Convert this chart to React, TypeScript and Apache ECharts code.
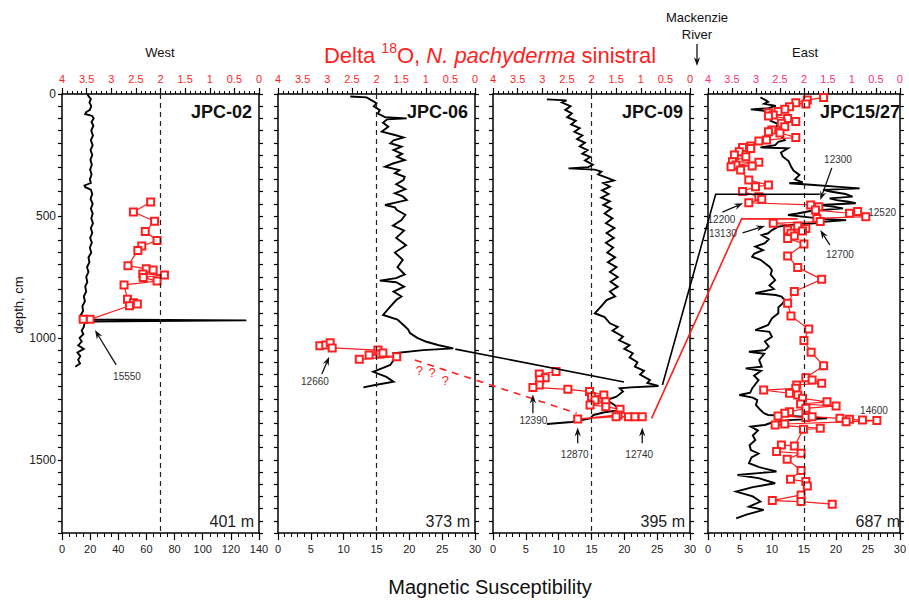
import React, { useEffect, useRef } from 'react';
import * as echarts from 'echarts';

const FONT = '"Liberation Sans", Arial, Helvetica, sans-serif';

// ---------- axes / labels ----------
const coreNames = ['JPC-02', 'JPC-06', 'JPC-09', 'JPC15/27'];
const waterDepths = ['401 m', '373 m', '395 m', '687 m'];
const msMax = [140, 30, 30, 30];
const msInterval = [20, 5, 5, 5];
const msMinorSplit = [4, 5, 5, 5];
const o18Min = 0;
const o18Max = 4;
const o18Interval = 0.5;
const depthMax = 1800;
const depthTickStep = 50;
const depthLabelStep = 500;
const o18Reference = 2;

// ---------- magnetic susceptibility: [depth cm, MS] ----------
const jpc02MS: [number, number][] = [
  [0, 18], [10, 19], [20, 20.5], [35, 19.5], [50, 20.8], [65, 19.8], [75, 17], [82, 16.5], [90, 21.5], [100, 22.5],
  [115, 21], [130, 22.3], [150, 20.8], [170, 22], [190, 20.5], [210, 21.8], [230, 20.3], [250, 21.5], [270, 20.2],
  [290, 21.2], [310, 20], [330, 21], [350, 19.8], [365, 20.5], [375, 16], [382, 16.5], [392, 20.5], [410, 21.5],
  [430, 20.3], [450, 21.8], [470, 20.5], [490, 21.8], [510, 20.8], [530, 22], [550, 20.5], [570, 21.5], [590, 20],
  [610, 21.2], [630, 19.8], [650, 20.8], [670, 18.8], [690, 19.5], [710, 17.8], [730, 18.8], [750, 17.2], [770, 18],
  [790, 16.5], [810, 17.2], [830, 15.5], [850, 16.3], [870, 14.5], [890, 15], [905, 13.5], [918, 15.5], [924, 17],
  [928, 131], [933, 20], [940, 16], [955, 15.5], [970, 14], [985, 15.2], [1000, 12.5], [1015, 14], [1030, 11.5],
  [1045, 15.5], [1060, 11], [1075, 13], [1090, 11.5], [1105, 12.8], [1118, 9.5],
];
const jpc06MS: [number, number][] = [
  [10, 11], [14, 13.5], [25, 14.2], [38, 15], [50, 14.6], [66, 15.5], [80, 15.2], [95, 16.3], [100, 19.6], [104, 16.6],
  [118, 16], [134, 16.8], [154, 15.8], [168, 17.8], [178, 19.1], [190, 17.6], [202, 17.1], [216, 18.8], [230, 17.6],
  [245, 18.9], [257, 18.1], [271, 19.3], [285, 17.5], [298, 16.3], [312, 18.5], [325, 17.8], [340, 19.3], [353, 19.1],
  [370, 18], [390, 19.4], [407, 17.8], [420, 19], [435, 19.6], [455, 16.3], [465, 17.8], [476, 18.1], [495, 19.4],
  [517, 18.8], [540, 17.5], [560, 19.2], [590, 18], [620, 19.5], [650, 17.8], [680, 19], [710, 18.2], [740, 19.3],
  [755, 18], [765, 15.5], [772, 18], [790, 19.2], [810, 17.6], [830, 18.8], [845, 18], [875, 17], [906, 16],
  [925, 18.2], [947, 19.1], [965, 19.8], [980, 20.1], [1000, 21.2], [1016, 22.6], [1030, 24.5], [1043, 26.7],
  [1050, 22.1], [1063, 17.6], [1077, 18.1], [1095, 17.5], [1111, 17.1], [1125, 15.8], [1139, 14.5], [1160, 16.5],
  [1180, 17.6], [1192, 15], [1203, 13],
];
const jpc09MS: [number, number][] = [
  [22, 8.2], [26, 11.2], [35, 10.5], [50, 11.8], [65, 11], [80, 12], [95, 11.3], [110, 12.6], [125, 11.9], [140, 13.2],
  [155, 12.4], [170, 13.6], [185, 12.8], [200, 14], [215, 13.2], [230, 14.4], [245, 13.6], [258, 14.8], [272, 14],
  [290, 15.2], [300, 14.5], [305, 11.5], [310, 15.5], [318, 16.5], [330, 16], [346, 17.6], [355, 18.4], [365, 16.8],
  [380, 17.8], [395, 16.6], [410, 17.6], [425, 16.5], [440, 17.8], [455, 16.8], [470, 18], [490, 17], [510, 18.2],
  [530, 17.2], [550, 18.5], [570, 17.3], [590, 18.4], [610, 17.2], [630, 18.3], [650, 17.4], [670, 18.6], [690, 17.5],
  [710, 18.8], [730, 17.8], [750, 19], [770, 17.9], [790, 19], [810, 17.8], [830, 18.6], [845, 17.3], [870, 16.5],
  [899, 15.5], [915, 17], [940, 17.8], [955, 19], [970, 18.2], [995, 19.8], [1010, 19.2], [1030, 20.8], [1045, 20],
  [1063, 21.3], [1080, 20.8], [1100, 22], [1118, 21.6], [1135, 23], [1150, 22.4], [1173, 23.9], [1185, 23.5],
  [1197, 25.2], [1203, 21], [1207, 19.3], [1220, 19.8], [1241, 18.8], [1255, 17.3], [1275, 18.5], [1296, 19.3],
  [1305, 17], [1316, 15.3], [1330, 14.8], [1345, 12], [1353, 8.2],
];
const jpc15MS: [number, number][] = [
  [14, 8.2], [25, 9], [32, 9.4], [40, 8.8], [49, 10.6], [58, 9.5], [63, 6.7], [70, 9], [79, 10], [95, 10.2], [110, 9.8],
  [122, 10.9], [134, 10.7], [145, 9.9], [154, 10.2], [170, 11.4], [189, 12], [196, 11], [210, 10.5], [219, 8.2],
  [223, 12.5], [240, 11.4], [257, 11.7], [275, 12.6], [298, 13], [315, 13.4], [332, 14.3], [350, 13.6], [362, 14.8],
  [366, 12.7], [373, 16.6], [380, 20], [387, 23.7], [393, 18], [400, 19.1], [410, 21.5], [421, 22.6], [428, 19],
  [435, 20.1], [442, 22], [448, 23.1], [455, 17.6], [462, 19.5], [469, 21.1], [480, 16], [490, 14], [496, 12.5],
  [505, 15.5], [512, 18], [517, 21.6], [524, 18], [530, 16.6], [537, 13], [544, 11], [558, 10], [571, 9.4], [578, 8.4],
  [595, 9.5], [612, 8.9], [626, 7.4], [640, 8.6], [655, 7.2], [667, 6.9], [680, 8.2], [694, 8.9], [708, 9.6],
  [722, 10], [740, 9.8], [763, 10.5], [785, 9.6], [800, 10.3], [817, 7.4], [824, 10.6], [831, 11.5], [845, 12],
  [858, 11.7], [875, 11], [899, 11], [920, 10], [947, 9.4], [968, 7.4], [975, 9.6], [995, 10], [1015, 8.9], [1035, 9.5],
  [1050, 8.9], [1057, 6.4], [1065, 8.8], [1090, 8], [1118, 8.4], [1125, 5.9], [1135, 8.3], [1155, 7.2], [1173, 7.9],
  [1190, 7.4], [1207, 6.9], [1225, 6.6], [1234, 4.9], [1245, 7], [1255, 7.7], [1275, 7.5], [1296, 8.2], [1310, 8.8],
  [1316, 9.4], [1323, 15], [1330, 18.6], [1337, 12.5], [1347, 10], [1357, 8.9], [1364, 6.7], [1380, 7.8], [1400, 7],
  [1419, 7.4], [1440, 6.5], [1460, 6.7], [1474, 7.9], [1490, 6.8], [1514, 6.4], [1530, 8], [1548, 10.7], [1562, 4.6],
  [1575, 7.9], [1596, 10.5], [1612, 7], [1630, 4.4], [1650, 7], [1671, 8.2], [1692, 6.4], [1705, 8.7], [1725, 6],
  [1740, 4.4],
];

// ---------- delta 18O (N. pachyderma sin.): [depth cm, permil] ----------
const jpc02O18: [number, number][] = [
  [443, 2.2], [484, 2.55], [522, 2.12], [564, 2.31], [601, 2.07], [623, 2.38], [642, 2.46], [704, 2.66], [717, 2.29],
  [722, 2.15], [738, 2.36], [742, 1.92], [752, 2.35], [767, 2.07], [783, 2.74], [842, 2.67], [856, 2.55], [861, 2.47],
  [868, 2.63], [924, 3.43], [924, 3.57],
];
const jpc06O18: [number, number][] = [
  [1032, 3.15], [1029, 3.03], [1020, 2.94], [1041, 2.9], [1050, 1.97], [1066, 1.93], [1062, 1.87], [1070, 2.15],
  [1077, 1.59], [1088, 2.35],
];
const jpc09O18: [number, number][] = [
  [1138, 2.72], [1148, 3.06], [1163, 2.94], [1172, 3.05], [1193, 3.06], [1203, 3.19], [1211, 2.48], [1220, 2.04],
  [1234, 1.75], [1241, 2.0], [1255, 1.93], [1262, 1.71], [1275, 2.03], [1282, 1.71], [1293, 1.42], [1316, 1.46],
  [1333, 2.28], [1323, 1.5], [1323, 1.25], [1323, 1.12], [1323, 0.97],
];
const jpc15O18: [number, number][] = [
  [14, 1.59], [25, 1.93], [36, 2.17], [41, 1.96], [52, 2.3], [63, 2.4], [72, 2.54], [77, 2.74], [86, 2.64], [90, 2.74],
  [100, 2.34], [113, 2.17], [120, 2.47], [134, 2.4], [148, 2.67], [155, 2.74], [160, 2.5], [178, 2.17], [189, 2.78],
  [193, 2.94], [213, 3.11], [219, 3.28], [223, 3.11], [237, 3.35], [250, 3.45], [257, 3.21], [278, 3.49], [280, 2.94],
  [291, 3.42], [295, 3.08], [298, 3.52], [312, 3.32], [353, 3.15], [373, 2.74], [380, 3.01], [400, 3.28], [421, 2.94],
  [432, 2.88], [446, 3.15], [455, 1.86], [462, 1.69], [476, 1.76], [489, 1.05], [482, 0.88], [503, 0.71], [510, 1.73],
  [523, 1.66], [530, 2.64], [541, 2.13], [551, 1.96], [558, 2.34], [562, 2.03], [571, 2.27], [582, 2.2], [592, 2.34],
  [615, 2.0], [664, 2.34], [711, 2.13], [760, 1.63], [810, 2.2], [858, 2.34], [910, 2.27], [964, 1.9], [1011, 2.0],
  [1059, 1.85], [1114, 1.59], [1163, 1.96], [1173, 1.83], [1186, 1.63], [1193, 2.15], [1207, 2.17], [1214, 2.84],
  [1227, 2.3], [1234, 2.13], [1248, 2.03], [1262, 1.52], [1271, 2.07], [1279, 1.33], [1289, 1.96], [1303, 2.3],
  [1309, 2.4], [1320, 2.54], [1326, 1.96], [1323, 1.83], [1330, 1.25], [1334, 1.05], [1337, 0.78], [1339, 0.48],
  [1344, 1.12], [1353, 2.4], [1357, 2.6], [1371, 1.66], [1375, 2.01], [1443, 2.2], [1439, 2.47], [1466, 2.57],
  [1473, 2.06], [1498, 2.35], [1544, 2.06], [1580, 2.28], [1589, 1.96], [1607, 1.93], [1644, 2.06], [1667, 2.66],
  [1671, 2.06], [1682, 1.41],
];

const msSeries = [jpc02MS, jpc06MS, jpc09MS, jpc15MS];
const o18Series = [jpc02O18, jpc06O18, jpc09O18, jpc15O18];

// ---------- annotations (panel, delta18O, depth) ----------
const corrBlackA: [number, number, number][] = [[1, 0.4, 1046], [2, 1.34, 1181]];
const corrBlackB: [number, number, number][] = [[2, 0.56, 1193], [3, 3.84, 411], [3, 1.67, 411]];
const corrRed: [number, number, number][] = [[2, 0.78, 1330], [3, 3.3, 512], [3, 2.13, 512]];
const corrRedDashed: [number, number, number][] = [[1, 1.22, 1091], [2, 2.3, 1309]];
const questionMarks: [number, number, number][] = [[1, 1.13, 1132], [1, 0.87, 1143], [1, 0.6, 1173]];
const ageLabels: { t: string; p: number; d: number; z: number }[] = [
  { t: '15550', p: 0, d: 2.68, z: 1160 },
  { t: '12660', p: 1, d: 3.25, z: 1180 },
  { t: '12390', p: 2, d: 3.18, z: 1337 },
  { t: '12870', p: 2, d: 2.34, z: 1480 },
  { t: '12740', p: 2, d: 1.03, z: 1480 },
  { t: '12300', p: 3, d: 1.29, z: 268 },
  { t: '12200', p: 3, d: 3.72, z: 514 },
  { t: '13130', p: 3, d: 3.69, z: 571 },
  { t: '12520', p: 3, d: 0.37, z: 485 },
  { t: '12700', p: 3, d: 1.25, z: 660 },
  { t: '14600', p: 3, d: 0.54, z: 1296 },
];
// [panel, d from, depth from, d to, depth to]
const ageArrows: [number, number, number, number, number][] = [
  [0, 2.9, 1111, 3.33, 968],
  [1, 3.11, 1148, 2.96, 1077],
  [2, 3.19, 1309, 3.19, 1232],
  [2, 2.28, 1432, 2.28, 1367],
  [2, 0.97, 1432, 0.97, 1367],
  [3, 1.42, 303, 1.66, 435],
  [3, 3.7, 484, 3.27, 448],
  [3, 3.28, 569, 2.81, 541],
  [3, 1.46, 619, 1.66, 558],
];

// ---------- layout ----------
const GRID_LEFT = [62, 278, 493, 708];
const GRID_W = 197;
const GRID_TOP = 94;
const GRID_H = 439;
const RED = '#ff1f1f';
const PINK = '#ff3377';

function buildOption(): any {
  const grid = GRID_LEFT.map((l) => ({ left: l, top: GRID_TOP, width: GRID_W, height: GRID_H, containLabel: false }));
  const xAxis: any[] = [];
  const yAxis: any[] = [];
  const series: any[] = [];
  for (let i = 0; i < 4; i++) {
    xAxis.push({
      type: 'value', gridIndex: i, position: 'bottom', min: 0, max: msMax[i], interval: msInterval[i],
      axisLine: { show: true, onZero: false, lineStyle: { color: '#000', width: 1.5 } },
      axisTick: { show: true, inside: false, length: 7, lineStyle: { color: '#000', width: 1.2 } },
      minorTick: { show: true, splitNumber: msMinorSplit[i], length: 4, lineStyle: { color: '#000', width: 1 } },
      axisLabel: { color: '#222', fontSize: 11, margin: 10, fontFamily: FONT },
      splitLine: { show: false }, minorSplitLine: { show: false },
    });
    xAxis.push({
      type: 'value', gridIndex: i, position: 'top', inverse: true, min: o18Min, max: o18Max, interval: o18Interval,
      axisLine: { show: true, onZero: false, lineStyle: { color: '#000', width: 1.5 } },
      axisTick: { show: true, inside: false, length: 6, lineStyle: { color: '#000', width: 1.2 } },
      minorTick: { show: true, splitNumber: 5, length: 3, lineStyle: { color: '#000', width: 1 } },
      axisLabel: { color: i === 3 ? PINK : RED, fontSize: 11, margin: 10, fontFamily: FONT },
      splitLine: { show: false }, minorSplitLine: { show: false },
    });
    const yBase = {
      type: 'value', gridIndex: i, inverse: true, min: 0, max: depthMax, interval: depthTickStep,
      axisLine: { show: true, onZero: false, lineStyle: { color: '#000', width: 1.5 } },
      axisTick: { show: true, inside: false, length: 4, lineStyle: { color: '#000', width: 1.2 } },
      splitLine: { show: false },
    };
    yAxis.push({
      ...yBase, position: 'left',
      axisLabel: {
        show: i === 0, color: '#222', fontSize: 12, margin: 6, fontFamily: FONT,
        formatter: (v: number) => (v % depthLabelStep === 0 ? String(v) : ''),
      },
    });
    yAxis.push({ ...yBase, position: 'right', axisLabel: { show: false } });

    series.push({
      type: 'line', name: coreNames[i] + ' MS', xAxisIndex: 2 * i, yAxisIndex: 2 * i,
      data: msSeries[i].map(([z, v]) => [v, z]), showSymbol: false, symbol: 'none',
      lineStyle: { color: '#000', width: 1.9, join: 'miter' }, z: 2,
      markLine: {
        silent: true, symbol: ['none', 'none'], label: { show: false },
        lineStyle: { color: '#222', type: [5, 4], width: 1.2 },
        data: [{ xAxis: (msMax[i] / 4) * (4 - o18Reference) }],
      },
    });
    series.push({
      type: 'line', name: coreNames[i] + ' d18O', xAxisIndex: 2 * i + 1, yAxisIndex: 2 * i,
      data: o18Series[i].map(([z, v]) => [v, z]), symbol: 'emptyRect', symbolSize: 7,
      lineStyle: { color: RED, width: 1.2 }, itemStyle: { color: RED, borderWidth: 1.2 }, z: 3,
    });
  }
  return {
    animation: false,
    backgroundColor: '#fff',
    textStyle: { fontFamily: FONT },
    grid, xAxis, yAxis, series,
  };
}

function arrow(x1: number, y1: number, x2: number, y2: number, color = '#111'): any[] {
  const dx = x2 - x1, dy = y2 - y1;
  const len = Math.hypot(dx, dy) || 1;
  const ux = dx / len, uy = dy / len;
  const hl = 9, hw = 3.2;
  const bx = x2 - ux * hl, by = y2 - uy * hl;
  return [
    { type: 'line', silent: true, shape: { x1, y1, x2: bx + ux * 3, y2: by + uy * 3 }, style: { stroke: color, lineWidth: 1.3 } },
    {
      type: 'polygon', silent: true,
      shape: { points: [[x2, y2], [bx - uy * hw, by + ux * hw], [bx + ux * 3, by + uy * 3], [bx + uy * hw, by - ux * hw]] },
      style: { fill: color },
    },
  ];
}

function buildGraphics(chart: any): any[] {
  const px = (p: number, d: number, z: number): number[] =>
    chart.convertToPixel({ xAxisIndex: 2 * p + 1, yAxisIndex: 2 * p }, [d, z]);
  const els: any[] = [];
  const poly = (pts: [number, number, number][], color: string, dashed = false) => {
    els.push({
      type: 'polyline', silent: true, z: 10,
      shape: { points: pts.map(([p, d, z]) => px(p, d, z)) },
      style: { stroke: color, lineWidth: 1.6, fill: null, lineDash: dashed ? [7, 6] : null },
    });
  };
  poly(corrBlackA, '#000');
  poly(corrBlackB, '#000');
  poly(corrRed, RED);
  poly(corrRedDashed, RED, true);
  questionMarks.forEach(([p, d, z]) => {
    const [x, y] = px(p, d, z);
    els.push({ type: 'text', silent: true, z: 10, x, y, style: { text: '?', fill: RED, fontSize: 13, fontFamily: FONT, align: 'center', verticalAlign: 'middle' } });
  });
  ageLabels.forEach(({ t, p, d, z }) => {
    const [x, y] = px(p, d, z);
    els.push({ type: 'text', silent: true, z: 10, x, y, style: { text: t, fill: '#333', fontSize: 10, fontFamily: FONT, align: 'center', verticalAlign: 'middle' } });
  });
  ageArrows.forEach(([p, d1, z1, d2, z2]) => {
    const [x1, y1] = px(p, d1, z1);
    const [x2, y2] = px(p, d2, z2);
    arrow(x1, y1, x2, y2).forEach((e) => els.push({ ...e, z: 10 }));
  });

  // panel labels
  for (let i = 0; i < 4; i++) {
    const right = GRID_LEFT[i] + GRID_W;
    els.push({
      type: 'text', silent: true, z: 10, x: right - (i === 3 ? 5 : 7), y: GRID_TOP + 18,
      style: { text: coreNames[i], fill: '#111', fontSize: 18, fontWeight: 'bold', fontFamily: FONT, align: 'right', verticalAlign: 'middle' },
    });
    els.push({
      type: 'text', silent: true, z: 10, x: right - 5, y: GRID_TOP + GRID_H - 12,
      style: { text: waterDepths[i], fill: '#222', fontSize: 16, fontFamily: FONT, align: 'right', verticalAlign: 'middle' },
    });
  }
  // titles
  els.push({
    type: 'text', silent: true, x: 490, y: 55,
    style: {
      text: '{a|Delta }{s|18}{a|O, }{i|N. pachyderma}{a| sinistral}',
      align: 'center', verticalAlign: 'middle',
      rich: {
        a: { fontSize: 22, fill: RED, fontFamily: FONT, lineHeight: 28 },
        i: { fontSize: 22, fill: RED, fontFamily: FONT, fontStyle: 'italic', lineHeight: 28 },
        s: { fontSize: 14, fill: RED, fontFamily: FONT, verticalAlign: 'top', lineHeight: 14 },
      },
    },
  });
  els.push({ type: 'text', silent: true, x: 160, y: 52, style: { text: 'West', fill: '#111', fontSize: 13, fontFamily: FONT, align: 'center', verticalAlign: 'middle' } });
  els.push({ type: 'text', silent: true, x: 805, y: 52, style: { text: 'East', fill: '#111', fontSize: 13, fontFamily: FONT, align: 'center', verticalAlign: 'middle' } });
  els.push({ type: 'text', silent: true, x: 697, y: 17, style: { text: 'Mackenzie', fill: '#111', fontSize: 13, fontFamily: FONT, align: 'center', verticalAlign: 'middle' } });
  els.push({ type: 'text', silent: true, x: 697, y: 34, style: { text: 'River', fill: '#111', fontSize: 13, fontFamily: FONT, align: 'center', verticalAlign: 'middle' } });
  arrow(697, 44, 697, 66).forEach((e) => els.push(e));
  els.push({
    type: 'text', silent: true, x: 18, y: 305, rotation: Math.PI / 2,
    style: { text: 'depth, cm', fill: '#111', fontSize: 13, fontFamily: FONT, align: 'center', verticalAlign: 'middle' },
  });
  els.push({
    type: 'text', silent: true, x: 490, y: 587,
    style: { text: 'Magnetic Susceptibility', fill: '#111', fontSize: 20, fontFamily: FONT, align: 'center', verticalAlign: 'middle' },
  });
  return els;
}

export default function App() {
  const ref = useRef<HTMLDivElement>(null);
  useEffect(() => {
    if (!ref.current) return;
    const chart = echarts.init(ref.current, undefined, { renderer: 'svg' });
    chart.setOption(buildOption());
    chart.setOption({ graphic: buildGraphics(chart) });
    return () => chart.dispose();
  }, []);
  return (
    <div
      ref={ref}
      style={{ position: 'fixed', left: 0, top: 0, width: 909, height: 600, background: '#fff' }}
    />
  );
}
